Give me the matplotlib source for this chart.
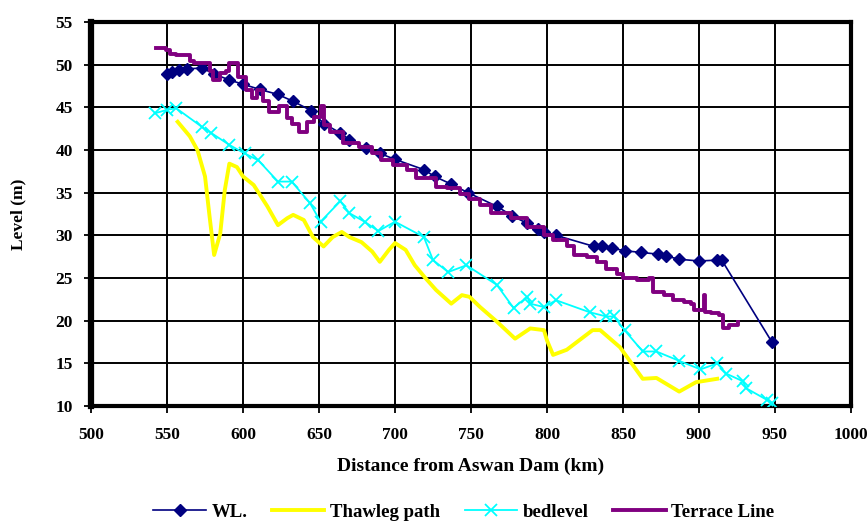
import numpy as np
import matplotlib
matplotlib.use("Agg")
import matplotlib.pyplot as plt

# Data
wl_x = [550, 553, 558, 563, 573, 581, 591, 600, 611, 623, 633, 645, 653, 664,
        670, 681, 690, 700, 719, 726, 737, 748, 767, 777, 787, 794, 798, 806,
        831, 836, 843, 851, 862, 873, 878, 887, 900, 912, 915, 948]
wl_y = [48.9, 49.1, 49.4, 49.5, 49.6, 48.9, 48.2, 47.7, 47.1, 46.5, 45.7, 44.6,
        43.1, 42.0, 41.2, 40.2, 39.6, 38.9, 37.7, 36.9, 36.0, 35.0, 33.4, 32.3,
        31.4, 30.8, 30.4, 30.0, 28.7, 28.7, 28.5, 28.2, 28.0, 27.8, 27.6, 27.2,
        27.0, 27.1, 27.1, 17.5]

thal_x = [557, 565, 570, 575, 578, 581, 585, 588, 591, 596, 600, 607, 616, 623,
          629, 633, 640, 646, 653, 659, 665, 670, 678, 685, 690, 696, 700, 707,
          713, 720, 727, 737, 744, 749, 756, 767, 779, 789, 798, 800, 804, 813,
          830, 835, 848, 863, 872, 887, 898, 912]
thal_y = [43.3, 41.6, 40.0, 36.9, 32.2, 27.7, 30.2, 35.3, 38.4, 38.0, 36.9, 35.9,
          33.4, 31.2, 32.0, 32.4, 31.8, 29.8, 28.7, 29.8, 30.4, 29.8, 29.2, 28.1,
          26.9, 28.3, 29.1, 28.3, 26.5, 25.0, 23.6, 22.0, 23.0, 22.8, 21.6, 19.9,
          17.9, 19.1, 18.9, 17.7, 16.0, 16.6, 18.9, 18.9, 16.9, 13.2, 13.3, 11.7,
          12.8, 13.2]

bed_x = [542, 550, 556, 573, 579, 591, 601, 610, 623, 632, 644, 651, 664, 670,
         680, 689, 700, 719, 725, 735, 747, 767, 778, 787, 789, 798, 806, 828,
         839, 844, 851, 863, 872, 887, 901, 912, 918, 929, 931, 945, 948]
bed_y = [44.3, 44.7, 44.9, 42.7, 42.0, 40.6, 39.6, 38.8, 36.3, 36.3, 33.8, 31.6,
         34.0, 32.6, 31.6, 30.5, 31.6, 29.8, 27.1, 25.7, 26.5, 24.2, 21.5, 22.8,
         22.0, 21.6, 22.4, 21.0, 20.5, 20.5, 18.9, 16.4, 16.4, 15.3, 14.3, 15.0,
         13.8, 12.9, 12.1, 10.7, 10.4]

ter_x = [543, 549, 552, 556, 565, 568, 578, 580, 585, 589, 591, 597, 602, 606,
         609, 613, 617, 624, 629, 632, 637, 642, 647, 651, 653, 657, 666, 676,
         685, 691, 699, 708, 714, 720, 727, 734, 743, 749, 756, 763, 776, 787,
         798, 804, 813, 818, 826, 833, 839, 846, 850, 859, 867, 870, 877, 883,
         890, 895, 897, 903, 904, 908, 913, 916, 920, 926]
ter_y = [51.9, 51.7, 51.3, 51.1, 50.4, 50.2, 49.2, 48.2, 49.0, 49.3, 50.2, 48.6,
         47.0, 46.1, 47.0, 45.7, 44.5, 45.1, 43.7, 43.1, 42.1, 43.3, 43.9, 45.1,
         42.9, 42.1, 40.8, 40.4, 39.6, 38.8, 38.2, 37.7, 36.7, 36.7, 35.7, 35.5,
         34.8, 34.3, 33.5, 32.6, 32.0, 31.0, 30.0, 29.5, 28.7, 27.7, 27.5, 26.9,
         26.1, 25.5, 25.0, 24.8, 25.0, 23.4, 23.0, 22.4, 22.2, 22.0, 21.2, 23.0,
         21.0, 20.9, 20.7, 19.1, 19.5, 19.9]

plt.rcParams['font.family'] = 'Liberation Serif'
plt.rcParams['font.weight'] = 'bold'

fig = plt.figure(figsize=(8.67, 5.22), dpi=100)
ax = fig.add_axes([0.105, 0.222, 0.8765, 0.736])

ax.plot(wl_x, wl_y, color='#000080', linewidth=1.2, marker='D',
        markersize=6, label='WL.', zorder=4)
ax.plot(thal_x, thal_y, color='#FFFF00', linewidth=2.8,
        label='Thawleg path', zorder=3)
ax.plot(bed_x, bed_y, color='#00FFFF', linewidth=1.3, marker='x',
        markersize=8, markeredgewidth=1.3, label='bedlevel', zorder=3)
ax.plot(ter_x, ter_y, color='#800080', linewidth=2.8, drawstyle='steps-post',
        label='Terrace Line', zorder=5)

ax.set_xlim(500, 1000)
ax.set_ylim(10, 55)
ax.set_xticks(np.arange(500, 1001, 50))
ax.set_yticks(np.arange(10, 56, 5))
ax.grid(True, color='black', linewidth=1.4)
ax.set_axisbelow(True)
for s in ax.spines.values():
    s.set_linewidth(3)
ax.spines['left'].set_linewidth(4.5)
ax.tick_params(direction='out', length=5, width=1.3, labelsize=12.5)
ax.tick_params(axis='x', pad=10)
ax.tick_params(axis='y', pad=8)
for lab in ax.get_xticklabels() + ax.get_yticklabels():
    lab.set_fontweight('bold')

ax.set_xlabel('Distance from Aswan Dam (km)', fontsize=14, fontweight='bold')
ax.set_ylabel('Level (m)', fontsize=12.5, fontweight='bold')
ax.xaxis.set_label_coords(0.5, -0.135)
ax.yaxis.set_label_coords(-0.085, 0.5)

fig.legend(loc='lower center', bbox_to_anchor=(0.535, -0.03), ncol=4,
           frameon=False, handlelength=2.8, handletextpad=0.3,
           columnspacing=1.3, prop={'weight': 'bold', 'size': 13.5})

fig.savefig('out.png', dpi=100)
